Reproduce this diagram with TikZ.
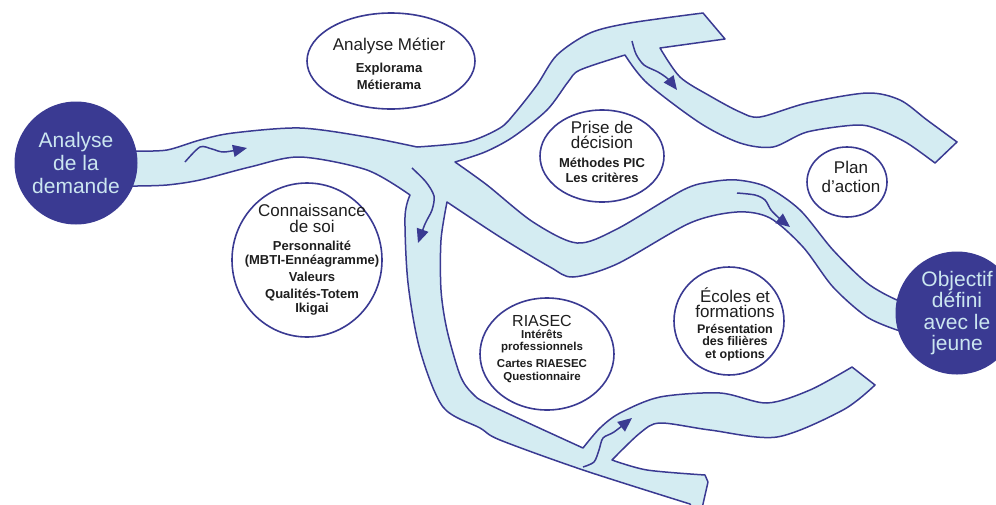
\documentclass[tikz,border=0pt]{standalone}
\usepackage{fontspec}
\setmainfont{Liberation Sans}
\usetikzlibrary{arrows.meta,shapes.geometric}

\definecolor{encre}{HTML}{3A3A92}
\definecolor{eau}{HTML}{D4ECF2}
\definecolor{ciel}{HTML}{CBE6F0}
\definecolor{texte}{HTML}{1E1E1E}

\tikzset{
  riviere/.style={fill=eau, draw=encre, line width=1.5pt, line join=round},
  courant/.style={draw=encre, line width=1.5pt, -{Triangle[length=14pt,width=12pt]}},
  bulle/.style={ellipse, draw=encre, line width=1.6pt, fill=white, inner sep=0pt},
  bulletexte/.style={align=center, text=texte, inner sep=0pt,
    font=\bfseries\fontsize{13}{15.5}\selectfont},
  pole/.style={circle, fill=encre, minimum size=123pt, inner sep=0pt,
    text=ciel, align=center},
}
\newcommand{\titre}[1]{{\mdseries\fontsize{17}{15.5}\selectfont #1}}

\begin{document}
\begin{tikzpicture}[x=1pt,y=-1pt]
\useasboundingbox (0,0) rectangle (996,504);
\clip (0,0) rectangle (996,504);

% la riviere
\draw[riviere] (120,151)
  -- plot[smooth] coordinates {(137,151) (167,150) (200,140) (233,133) (300,128) (367,137) (417,147)}
  -- plot[smooth] coordinates {(417,147) (467,142) (500,128) (515,113) (537,85) (557,55) (590,33) (630,23) (703,13)}
  -- (725,39) -- (660,48)
  -- plot[smooth] coordinates {(660,48) (680,77) (710,96) (740,112) (760,117) (807,103) (867,93) (900,100) (927,120) (957,142)}
  -- (935,163)
  -- plot[smooth] coordinates {(935,163) (907,143) (880,130) (857,125) (807,132) (773,147) (740,143) (700,123) (647,83) (625,55)}
  -- plot[smooth] coordinates {(625,55) (580,70) (568,82) (547,110) (513,137) (485,152) (455,162)}
  -- plot[smooth] coordinates {(455,162) (487,185) (533,222) (577,243) (617,229) (683,190) (710,182) (737,180) (767,187) (800,210) (833,250) (867,283) (897,300) (915,303)}
  -- (915,333)
  -- plot[smooth] coordinates {(897,330) (867,317) (833,287) (803,247) (770,218) (737,212) (690,223) (617,264) (573,277) (550,267) (500,237) (447,202)}
  -- plot[smooth] coordinates {(447,202) (441,240) (441,290) (447,330) (460,375) (472,393) (490,405) (583,448)}
  -- plot[smooth] coordinates {(583,448) (600,428) (620,413) (660,397) (720,393) (767,403) (810,390) (852,367)}
  -- (875,385)
  -- plot[smooth] coordinates {(875,385) (843,410) (777,437) (710,430) (660,423) (640,433) (612,460)}
  -- plot[smooth] coordinates {(612,460) (647,470) (705,475)}
  -- (708,482) -- (703,504) -- (702,512) -- (694,512)
  -- plot[smooth] coordinates {(690,504) (583,470) (500,440) (480,428) (443,407) (420,350) (408,283) (405,217) (410,195)}
  -- plot[smooth] coordinates {(410,195) (367,170) (300,157) (250,167) (200,180) (167,185) (137,186)}
  -- (120,186) -- cycle;

% les courants
\draw[courant] plot[smooth] coordinates {(185,162) (200,147) (212,149) (224,152) (247,148)};
\draw[courant] plot[smooth] coordinates {(412,168) (426,182) (434,196) (432,210) (425,224) (418,243)};
\draw[courant] plot[smooth] coordinates {(632,41) (636,54) (644,65) (658,72) (668,79) (677,90)};
\draw[courant] plot[smooth] coordinates {(737,193) (755,195) (765,200) (771,210) (779,218) (790,227)};
\draw[courant] plot[smooth] coordinates {(583,467) (594,462) (599,450) (603,438) (614,432) (632,418)};

% depart et arrivee
\node[pole, font=\fontsize{21}{23}\selectfont] (demande) at (76,163) {Analyse\\de la\\demande};
\node[pole, font=\fontsize{21}{21.5}\selectfont] (objectif) at (957,313) {Objectif\\défini\\avec le\\jeune};

% les etapes
\node[bulle, minimum width=168pt, minimum height=96pt] (metier) at (391,61) {};
\node[bulletexte] (metier-txt) at (389,64) {\titre{Analyse Métier}\\[6pt] Explorama\\[1.5pt] Métierama};

\node[bulle, minimum width=124pt, minimum height=92pt] (decision) at (602,156) {};
\node[bulletexte] (decision-txt) at (602,152) {\titre{Prise de}\\ \titre{décision}\\[3pt] Méthodes PIC\\ Les critères};

\node[bulle, minimum width=80pt, minimum height=70pt] (plan) at (847,182) {};
\node[bulletexte, font=\fontsize{17}{19}\selectfont] (plan-txt) at (851,177) {Plan\\d’action};

\node[bulle, minimum width=150pt, minimum height=154pt] (soi) at (307,260) {};
\node[bulletexte] (soi-txt) at (312,260) {\titre{Connaissance}\\ \titre{de soi}\\[3pt] Personnalité\\[-1.5pt] (MBTI-Ennéagramme)\\[1.5pt] Valeurs\\[1.5pt] Qualités-Totem\\[-1.5pt] Ikigai};

\node[bulle, minimum width=134pt, minimum height=112pt] (riasec) at (547,354) {};
\node[bulletexte, font=\bfseries\fontsize{11.5}{15.5}\selectfont] (riasec-txt) at (542,349) {{\mdseries\fontsize{16}{15.5}\selectfont RIASEC}\\[-4pt] Intérêts\\[-3.5pt] professionnels\\[1.5pt] Cartes RIAESEC\\[-2.5pt] Questionnaire};

\node[bulle, minimum width=110pt, minimum height=108pt] (ecoles) at (729,321) {};
\node[bulletexte, font=\bfseries\fontsize{12.5}{15.5}\selectfont] (ecoles-txt) at (735,324) {\titre{Écoles et}\\ \titre{formations}\\ Présentation\\[-3pt] des filières\\[-3pt] et options};
\end{tikzpicture}
\end{document}
